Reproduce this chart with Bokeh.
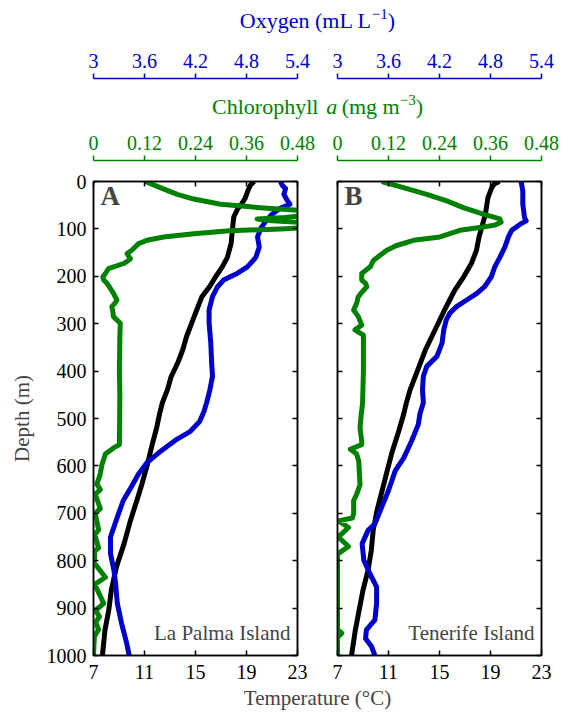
from bokeh.plotting import figure
from bokeh.models import Range1d, LinearAxis, FixedTicker, CustomJSTickFormatter, Label
from bokeh.layouts import column, row
from bokeh.embed import file_html
from bokeh.resources import INLINE

# ---------------- data ----------------
depth_ticks = [0, 100, 200, 300, 400, 500, 600, 700, 800, 900, 1000]
temp_ticks = [7, 11, 15, 19, 23]
oxy_ticks = [3, 3.6, 4.2, 4.8, 5.4]
chl_ticks = [0, 0.12, 0.24, 0.36, 0.48]

# La Palma Island (panel A)
lp_temp_depth = [0, 8, 20, 35, 48, 58, 75, 100, 130, 160, 180, 200, 222, 243, 271, 299, 327, 355,
                 383, 411, 439, 467, 488, 520, 555, 600, 638, 673, 715, 764, 813, 862, 904, 946, 1000]
lp_temp = [19.6, 19.3, 19.1, 18.9, 18.6, 18.3, 18.0, 17.9, 17.8, 17.5, 17.1, 16.6, 16.1, 15.5, 15.1,
           14.7, 14.3, 14.0, 13.6, 13.1, 12.8, 12.4, 12.2, 11.95, 11.6, 11.2, 10.8, 10.4, 9.9, 9.4,
           8.8, 8.4, 8.2, 7.9, 7.7]

lp_oxy_depth = [0, 8, 15, 27, 40, 48, 56, 69, 83, 98, 117, 138, 160, 180, 194, 208, 222, 243, 271,
                299, 341, 383, 411, 439, 467, 485, 506, 527, 544, 569, 593, 617, 649, 673, 708, 750,
                785, 820, 848, 890, 932, 974, 1000]
lp_oxy = [5.20, 5.22, 5.26, 5.24, 5.28, 5.31, 5.20, 5.10, 5.03, 4.97, 4.93, 4.95, 4.91, 4.81, 4.69,
          4.53, 4.46, 4.40, 4.36, 4.36, 4.38, 4.39, 4.40, 4.37, 4.33, 4.30, 4.25, 4.14, 3.98, 3.79,
          3.63, 3.53, 3.43, 3.35, 3.28, 3.20, 3.20, 3.24, 3.26, 3.28, 3.33, 3.39, 3.42]

lp_chl_depth = [0, 13, 27, 37, 48, 56, 62, 68, 72, 76, 79, 83, 87, 92, 97, 100, 104, 110, 117, 124,
                131, 145, 152, 158, 163, 168, 173, 184, 194, 201, 208, 213, 219, 236, 250, 257, 264,
                272, 285, 299, 327, 400, 450, 555, 562, 575, 597, 620, 638, 650, 660, 690, 700, 735,
                745, 773, 780, 805, 835, 850, 890, 905, 918, 930, 945, 960, 1000]
lp_chl = [0.122, 0.157, 0.197, 0.236, 0.299, 0.401, 0.50, 0.52, 0.50, 0.45, 0.385, 0.42, 0.50, 0.53,
          0.50, 0.44, 0.32, 0.236, 0.165, 0.126, 0.106, 0.090, 0.079, 0.083, 0.087, 0.080, 0.071,
          0.035, 0.028, 0.022, 0.024, 0.030, 0.035, 0.047, 0.055, 0.050, 0.043, 0.045, 0.047, 0.063,
          0.062, 0.061, 0.062, 0.061, 0.047, 0.028, 0.020, 0.015, 0.008, 0.016, 0.004, 0.016, 0.004,
          0.012, 0.003, 0.012, 0.003, 0.002, 0.028, 0.003, 0.024, 0.005, 0.014, 0.005, 0.012, 0.002,
          0.0]

# Tenerife Island (panel B)
tf_temp_depth = [0, 5, 13, 34, 69, 98, 117, 145, 173, 201, 229, 250, 271, 299, 327, 355, 383, 411,
                 439, 467, 490, 527, 569, 610, 652, 694, 736, 778, 820, 862, 904, 946, 1000]
tf_temp = [19.7, 19.3, 19.1, 18.8, 18.6, 18.3, 18.1, 17.9, 17.5, 16.9, 16.2, 15.8, 15.4, 14.9, 14.4,
           13.9, 13.5, 13.1, 12.7, 12.4, 12.2, 11.8, 11.3, 10.9, 10.5, 10.1, 9.8, 9.65, 9.4, 9.0,
           8.7, 8.4, 8.1]

tf_oxy_depth = [0, 20, 48, 76, 83, 90, 103, 117, 138, 160, 180, 201, 222, 236, 250, 264, 278, 292,
                313, 341, 369, 390, 411, 439, 467, 490, 513, 548, 583, 610, 652, 687, 722, 736, 764,
                799, 827, 855, 890, 925, 946, 964, 981, 1000]
tf_oxy = [5.16, 5.18, 5.18, 5.20, 5.22, 5.15, 5.05, 5.01, 4.97, 4.91, 4.85, 4.81, 4.73, 4.64, 4.52,
          4.40, 4.32, 4.28, 4.25, 4.23, 4.17, 4.05, 4.01, 4.00, 4.01, 3.97, 3.95, 3.87, 3.78, 3.68,
          3.60, 3.52, 3.44, 3.36, 3.29, 3.31, 3.38, 3.46, 3.46, 3.44, 3.34, 3.33, 3.40, 3.44]

tf_chl_depth = [0, 13, 27, 41, 55, 69, 79, 86, 92, 97, 103, 117, 124, 135, 145, 166, 180, 194, 208,
                215, 222, 236, 243, 257, 271, 285, 303, 313, 324, 341, 400, 467, 498, 520, 548, 555,
                565, 575, 590, 640, 660, 673, 700, 710, 716, 730, 750, 770, 786, 945, 953, 962, 1000]
tf_chl = [0.104, 0.155, 0.210, 0.257, 0.296, 0.343, 0.382, 0.385, 0.370, 0.335, 0.288, 0.241, 0.179,
          0.139, 0.116, 0.085, 0.077, 0.057, 0.057, 0.066, 0.069, 0.055, 0.049, 0.045, 0.038, 0.049,
          0.057, 0.041, 0.061, 0.061, 0.061, 0.059, 0.055, 0.053, 0.057, 0.057, 0.030, 0.045, 0.050,
          0.053, 0.045, 0.038, 0.038, 0.035, 0.002, 0.026, 0.002, 0.026, 0.0, 0.0, 0.010, 0.0, 0.0]

# ---------------- style / layout ----------------
FONT = "Liberation Serif"
BLUE = "#0000CC"
GREEN = "#008000"
TICK_FS = "20px"
LABEL_FS = 22
SUP_FS = 15
SUP_RAISE = 9
BASE_FIX = 0.36   # empirical shift so that a Label's baseline lands where intended
LINE_W = 5

TOTAL_W = 560
W_A, W_B = 317, 243
LB_A, RB_A = 93, 20
LB_B, RB_B = 20, 19
FRAME_H = 474
TOP_B = 11
BOTTOM_B = 31
MAIN_TOP = 170
CENTER_X = (LB_A + (W_A + W_B - RB_B)) / 2.0  # middle of both frames

# Times / Liberation Serif advance widths (per 1000 em) for placing label pieces
TW = {' ': 250, '(': 333, ')': 333, '.': 250, '\u2212': 564, '\u00b0': 400,
      'C': 667, 'L': 611, 'O': 722, 'T': 611, 'D': 722,
      'a': 444, 'e': 444, 'f': 333, 'g': 500, 'h': 500, 'i': 278, 'l': 278, 'm': 778,
      'n': 500, 'o': 500, 'p': 500, 'r': 333, 's': 389, 't': 278, 'u': 500, 'x': 500, 'y': 500}


def tw(s, size):
    return sum(TW.get(c, 500) for c in s) / 1000.0 * size


def style_axis(ax, ticks, color="black", labels=True, tick_in=5, tick_out=0, standoff=6):
    ax.ticker = FixedTicker(ticks=ticks)
    ax.axis_line_color = color
    ax.axis_line_width = 1.5
    ax.major_tick_line_color = color
    ax.major_tick_line_width = 1.5
    ax.major_tick_in = tick_in
    ax.major_tick_out = tick_out
    ax.minor_tick_line_color = None
    ax.major_label_text_font = FONT
    ax.major_label_text_color = color
    if labels:
        ax.major_label_standoff = standoff
        ax.major_label_text_font_size = TICK_FS
        ax.formatter = CustomJSTickFormatter(code="return tick.toString()")
    else:
        ax.major_label_standoff = 0
        ax.major_label_text_font_size = "0px"
        ax.formatter = CustomJSTickFormatter(code="return ''")
    return ax


def bare_fig(width, height, xr, yr, lb, rb, bt, bb):
    p = figure(width=width, height=height, x_range=xr, y_range=yr,
               output_backend="svg", toolbar_location=None, title=None,
               x_axis_location=None, y_axis_location=None,
               min_border_left=lb, min_border_right=rb, min_border_top=bt, min_border_bottom=bb)
    p.grid.grid_line_color = None
    p.outline_line_color = None
    return p


def main_panel(width, lb, rb, show_depth, t_d, t, o_d, o, c_d, c, letter, island):
    p = bare_fig(width, TOP_B + FRAME_H + BOTTOM_B, Range1d(7, 23), Range1d(1000, 0),
                 lb, rb, TOP_B, BOTTOM_B)
    p.extra_x_ranges = {"oxy": Range1d(3, 5.4), "chl": Range1d(0, 0.48)}
    p.outline_line_color = "black"
    p.outline_line_width = 1.5

    p.add_layout(style_axis(LinearAxis(), temp_ticks, standoff=9), "below")
    ly = style_axis(LinearAxis(), depth_ticks, labels=show_depth, standoff=7)
    if show_depth:
        ly.axis_label = "Depth (m)"
        ly.axis_label_text_font = FONT
        ly.axis_label_text_font_size = "21px"
        ly.axis_label_text_font_style = "normal"
        ly.axis_label_standoff = 10
    p.add_layout(ly, "left")
    p.add_layout(style_axis(LinearAxis(), depth_ticks, labels=False), "right")
    p.add_layout(style_axis(LinearAxis(), temp_ticks, labels=False), "above")

    p.line(x=t, y=t_d, color="black", line_width=LINE_W, line_join="round")
    p.line(x=o, y=o_d, color=BLUE, line_width=LINE_W, line_join="round", x_range_name="oxy")
    p.line(x=c, y=c_d, color=GREEN, line_width=LINE_W, line_join="round", x_range_name="chl")

    p.add_layout(Label(x=p.x_range.start, y=p.y_range.end, x_offset=7,
                       y_offset=-24 + BASE_FIX * 27, text=letter,
                       text_font=FONT, text_font_style="bold", text_font_size="27px",
                       text_baseline="alphabetic", text_align="left"))
    p.add_layout(Label(x=p.x_range.end, y=p.y_range.start, x_offset=-7,
                       y_offset=15 + BASE_FIX * 21, text=island,
                       text_font=FONT, text_font_size="21px", text_baseline="alphabetic",
                       text_align="right"))
    return p


def top_axis_panel(width, lb, rb, height, border_top, rng, ticks, color):
    p = bare_fig(width, height, rng, Range1d(0, 1), lb, rb, border_top, 0)
    p.add_layout(style_axis(LinearAxis(), ticks, color=color, tick_in=0, tick_out=5, standoff=6),
                 "above")
    return p


def header(height):
    return bare_fig(TOTAL_W, height, Range1d(0, TOTAL_W), Range1d(0, height), 0, 0, 0, 0)


def add_pieces(p, pieces, y, color):
    total = sum(tw(txt, size) + gap for txt, size, style, raise_, gap in pieces)
    x = CENTER_X - total / 2.0
    for txt, size, style, raise_, gap in pieces:
        p.add_layout(Label(x=x, y=y + raise_ + BASE_FIX * size, text=txt, text_font=FONT,
                           text_font_size=f"{size}px", text_font_style=style, text_color=color,
                           text_align="left", text_baseline="alphabetic"))
        x += tw(txt, size) + gap


SP = tw(" ", LABEL_FS)

# header 1: oxygen label (0-40), baseline at 28
h1 = header(40)
add_pieces(h1, [("Oxygen (mL L", LABEL_FS, "normal", 0, 0),
                ("\u22121", SUP_FS, "normal", SUP_RAISE, 0),
                (")", LABEL_FS, "normal", 0, 0)], 40 - 28, BLUE)

# oxygen axes (40-82, axis line at 78)
oxA = top_axis_panel(W_A, LB_A, RB_A, 42, 38, Range1d(3, 5.4), oxy_ticks, BLUE)
oxB = top_axis_panel(W_B, LB_B, RB_B, 42, 38, Range1d(3, 5.4), oxy_ticks, BLUE)

# header 2: chlorophyll label (82-124), baseline at 114
h2 = header(42)
add_pieces(h2, [("Chlorophyll", LABEL_FS, "normal", 0, 8),
                ("a", LABEL_FS, "italic", 0, SP),
                ("(mg m", LABEL_FS, "normal", 0, 0),
                ("\u22123", SUP_FS, "normal", SUP_RAISE, 0),
                (")", LABEL_FS, "normal", 0, 0)], 124 - 114, GREEN)

# chlorophyll axes (124-170, axis line at 160)
chA = top_axis_panel(W_A, LB_A, RB_A, MAIN_TOP - 124, 36, Range1d(0, 0.48), chl_ticks, GREEN)
chB = top_axis_panel(W_B, LB_B, RB_B, MAIN_TOP - 124, 36, Range1d(0, 0.48), chl_ticks, GREEN)

# main panels (170-686, frame 181-655)
pA = main_panel(W_A, LB_A, RB_A, True, lp_temp_depth, lp_temp, lp_oxy_depth, lp_oxy,
                lp_chl_depth, lp_chl, "A", "La Palma Island")
pB = main_panel(W_B, LB_B, RB_B, False, tf_temp_depth, tf_temp, tf_oxy_depth, tf_oxy,
                tf_chl_depth, tf_chl, "B", "Tenerife Island")

# footer: temperature label (686-712), baseline near 705
FOOT_TOP = MAIN_TOP + TOP_B + FRAME_H + BOTTOM_B
h3 = header(712 - FOOT_TOP)
h3.add_layout(Label(x=CENTER_X, y=712 - 705.5 + BASE_FIX * 21, text="Temperature (\u00b0C)",
                    text_font=FONT, text_font_size="21px", text_align="center",
                    text_baseline="alphabetic"))

layout = column(h1, row(oxA, oxB), h2, row(chA, chB), row(pA, pB), h3)

with open("out.html", "w") as f:
    f.write(file_html(layout, INLINE))
